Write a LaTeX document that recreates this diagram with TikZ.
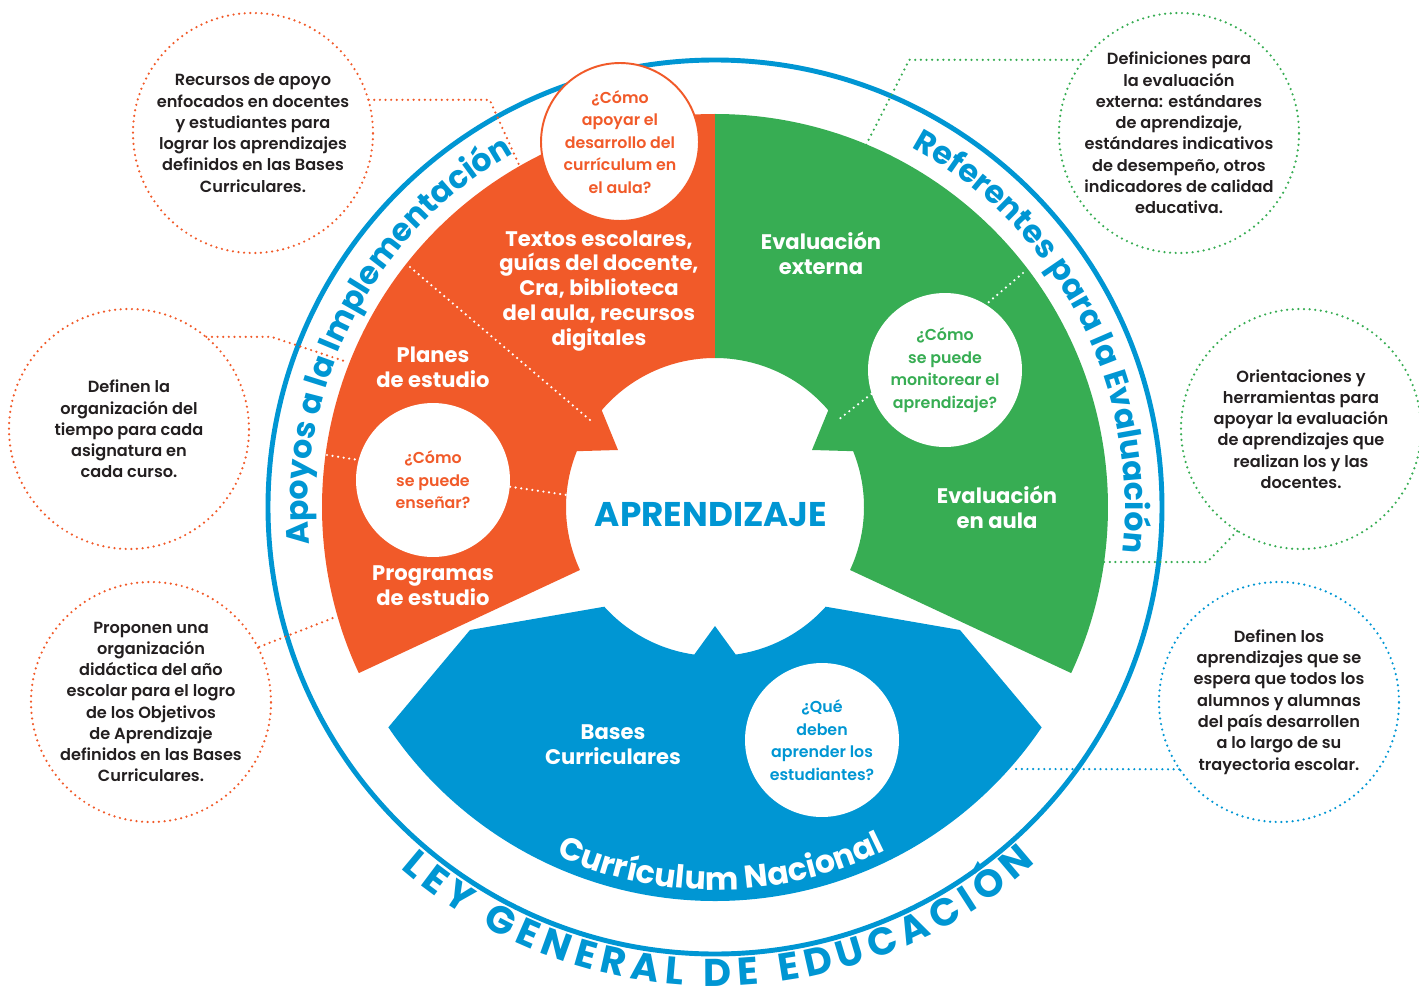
\documentclass[tikz,border=0pt]{standalone}
\usepackage{fontspec}
\setmainfont{Poppins}
\newfontfamily\semib{Poppins SemiBold}
\usepackage{tikz}
\usetikzlibrary{decorations.text}
\definecolor{naranja}{HTML}{F15A29}
\definecolor{verde}{HTML}{37AD53}
\definecolor{azul}{HTML}{0096D3}
\definecolor{tinta}{HTML}{231F20}
\tikzset{
  nota/.style={circle, minimum size=4.8cm, inner sep=0pt, align=center, text=tinta, font=\semib\fontsize{9.2}{12.1}\selectfont},
  pregunta/.style={circle, fill=white, minimum size=3.08cm, inner sep=0pt, align=center, font=\semib\fontsize{9}{12.8}\selectfont},
  rotulo/.style={text=white, align=center, font=\bfseries\fontsize{12}{14.2}\selectfont},
  puntos/.style={line width=1.4pt, dash pattern=on 0pt off 3.2pt, line cap=round},
}

\begin{document}
\begin{tikzpicture}[x=0.02cm, y=0.02cm]
\useasboundingbox (-715,-491) rectangle (704,507);

\fill[naranja] (90:393) arc[start angle=90, end angle=205, radius=393] -- (205:149) arc[start angle=205, end angle=158, radius=149] -- (-97,57) -- (139.5:149) arc[start angle=139.5, end angle=90, radius=149] -- cycle;
\fill[verde] (90:393) arc[start angle=90, end angle=-25, radius=393] -- (-25:149) arc[start angle=-25, end angle=22, radius=149] -- (97,57) -- (40.5:149) arc[start angle=40.5, end angle=90, radius=149] -- cycle;
\fill[azul] (214:394) -- (-245,-123) -- (222:149) arc[start angle=222, end angle=262, radius=149] -- (0,-119) -- (278:149) arc[start angle=278, end angle=318, radius=149] -- (245,-123) -- (-34:394) arc[start angle=-34, end angle=-146, radius=394] -- cycle;

\draw[azul, line width=2.8pt] (0,0) circle[radius=447];

\path[decorate, decoration={text along path, text align=center, text color=azul,
  text={|\bfseries\fontsize{18}{18}\selectfont|Apoyos a la Implementación}}]
  (188:407) arc[start angle=188, end angle=117, radius=407];
\path[decorate, decoration={text along path, text align=center, text color=azul,
  text={|\bfseries\fontsize{18}{18}\selectfont|Referentes para la Evaluación}}]
  (64:410) arc[start angle=64, end angle=-9, radius=410];
\path[decorate, decoration={text along path, text align=center, text color=white,
  text={|\bfseries\fontsize{18}{18}\selectfont|Currículum Nacional}}]
  (243:383) arc[start angle=243, end angle=299, radius=383];
\path[decorate, decoration={text along path, text align={fit to path}, text color=azul,
  text={|\bfseries\fontsize{22}{22}\selectfont|LEY GENERAL DE EDUCACIÓN}}]
  (229:479) arc[start angle=229, end angle=312, radius=479];

\node[rotulo] (textos) at (-116,216) {Textos escolares,\\guías del docente,\\Cra, biblioteca\\del aula, recursos\\digitales};
\node[rotulo] (planes) at (-282,140) {Planes\\de estudio};
\node[rotulo] (programas) at (-282,-79) {Programas\\de estudio};
\node[rotulo] (externa) at (106,254) {Evaluación\\externa};
\node[rotulo] (enaula) at (282,0) {Evaluación\\en aula};
\node[rotulo] (bases) at (-102,-238) {Bases\\Curriculares};
\node[text=azul, font=\bfseries\fontsize{19.5}{20}\selectfont] (aprendizaje) at (-4,-8) {APRENDIZAJE};

\draw[puntos, white] (-305,240) -- (-125,87);

\node[pregunta, minimum size=3.16cm, draw=naranja, line width=1.1pt, text=naranja] (apoyar) at (-95,365) {¿Cómo\\apoyar el\\desarrollo del\\currículum en\\el aula?};
\node[pregunta, text=naranja] (ensenar) at (-282,27) {¿Cómo\\se puede\\enseñar?};
\node[pregunta, text=verde] (monitorear) at (230,137) {¿Cómo\\se puede\\monitorear el\\aprendizaje?};
\node[pregunta, text=azul] (deben) at (107,-233) {¿Qué\\deben\\aprender los\\estudiantes?};

\coordinate (ensenarIn) at (-388,52);
\coordinate (ensenarOut) at (-148,12);
\draw[puntos, white] (ensenarIn) -- (ensenar.165);
\draw[puntos, white] (ensenar.-5) -- (ensenarOut);
\coordinate (monitorearIn) at (308,234);
\coordinate (monitorearOut) at (123,87);
\draw[puntos, white] (monitorearIn) -- (monitorear.58);
\draw[puntos, white] (monitorear.198) -- (monitorearOut);

\node[nota] (recursos) at (-462,374) {Recursos de apoyo\\enfocados en docentes\\y estudiantes para\\lograr los aprendizajes\\definidos en las Bases\\Curriculares.};
\node[nota] (tiempo) at (-586,78) {Definen la\\organización del\\tiempo para cada\\asignatura en\\cada curso.};
\node[nota] (didactica) at (-564,-195) {Proponen una\\organización\\didáctica del año\\escolar para el logro\\de los Objetivos\\de Aprendizaje\\definidos en las Bases\\Curriculares.};
\node[nota] (estandares) at (464,374) {Definiciones para\\la evaluación\\externa: estándares\\de aprendizaje,\\estándares indicativos\\de desempeño, otros\\indicadores de calidad\\educativa.};
\node[nota] (orientaciones) at (586,78) {Orientaciones y\\herramientas para\\apoyar la evaluación\\de aprendizajes que\\realizan los y las\\docentes.};
\node[nota] (trayectoria) at (564,-195) {Definen los\\aprendizajes que se\\espera que todos los\\alumnos y alumnas\\del país desarrollen\\a lo largo de su\\trayectoria escolar.};

\draw[puntos, naranja] (recursos) circle[radius=120];
\draw[puntos, naranja] (tiempo) circle[radius=120];
\draw[puntos, naranja] (didactica) circle[radius=120];
\draw[puntos, verde] (estandares) circle[radius=120];
\draw[puntos, verde] (orientaciones) circle[radius=120];
\draw[puntos, azul] (trayectoria) circle[radius=120];

\coordinate (recursosFin) at (-195,340);
\coordinate (tiempoFin) at (-368,145);
\coordinate (didacticaFin) at (-382,-111);
\coordinate (estandaresFin) at (150,360);
\coordinate (orientacionesFin) at (388,-55);
\coordinate (trayectoriaFin) at (297,-262);
\draw[puntos, naranja] (recursos.16) -- ++(121,0) -- (recursosFin);
\draw[puntos, naranja] (tiempo.50) -- ++(65,0) -- (tiempoFin);
\draw[puntos, naranja] (didactica.27) -- (didacticaFin);
\draw[puntos, verde] (estandares.144) -- ++(-169,0) -- (estandaresFin);
\draw[puntos, verde] (orientaciones.238) -- ++(-30,-31) -- (orientacionesFin);
\draw[puntos, azul] (trayectoria.214) -- (trayectoriaFin);
\end{tikzpicture}
\end{document}
